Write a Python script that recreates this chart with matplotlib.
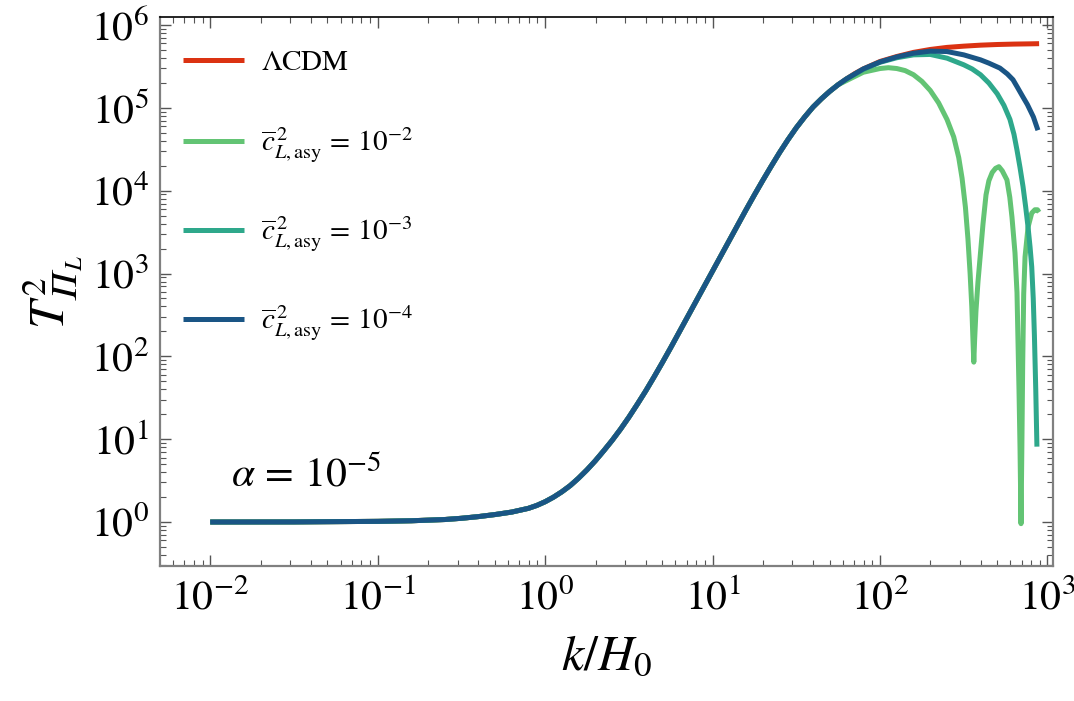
import numpy as np
import matplotlib
matplotlib.use("Agg")
import matplotlib.pyplot as plt
from matplotlib.ticker import LogLocator, NullFormatter

plt.rcParams['mathtext.fontset'] = 'stix'
plt.rcParams['font.family'] = ['STIXGeneral', 'DejaVu Serif']

# log10(k/H0) and log10(T^2)
# shared low-k part (all four curves lie on top of each other here)
logk_common = [-2.0, -1.5, -1.0, -0.8, -0.6, -0.5, -0.4, -0.3, -0.2, -0.1, -0.05, 0.0, 0.05,
               0.1, 0.15, 0.2, 0.25, 0.3, 0.35, 0.4, 0.45, 0.5, 0.55, 0.6, 0.65, 0.7, 0.75,
               0.8, 0.85, 0.9, 0.95, 1.0, 1.05, 1.1, 1.15, 1.2, 1.25, 1.3, 1.35, 1.4, 1.45,
               1.5, 1.55, 1.6, 1.65, 1.7, 1.75]
logT_common = [0.0, 0.001, 0.008, 0.015, 0.03, 0.045, 0.065, 0.09, 0.12, 0.165, 0.20, 0.245, 0.30,
               0.365, 0.44, 0.53, 0.63, 0.74, 0.86, 0.985, 1.12, 1.265, 1.42, 1.58, 1.75, 1.925, 2.105,
               2.29, 2.475, 2.66, 2.845, 3.03, 3.215, 3.40, 3.585, 3.77, 3.95, 4.125, 4.295, 4.46, 4.615,
               4.76, 4.89, 5.01, 5.11, 5.20, 5.28]

# high-k tails
logk_lcdm = [1.8, 1.85, 1.9, 2.0, 2.1, 2.2, 2.3, 2.4, 2.5, 2.6, 2.7, 2.8, 2.9, 2.95]
logT_lcdm = [5.35, 5.415, 5.47, 5.56, 5.62, 5.67, 5.705, 5.73, 5.745, 5.757, 5.765, 5.77, 5.773, 5.775]

logk_c2 = [1.8, 1.9, 2.0, 2.05, 2.1, 2.15, 2.2, 2.25, 2.3, 2.35, 2.4, 2.44, 2.47, 2.49, 2.51,
           2.525, 2.538, 2.548, 2.555, 2.56, 2.565, 2.573, 2.585, 2.60, 2.615, 2.633, 2.65,
           2.67, 2.69, 2.71, 2.73, 2.758, 2.775, 2.788, 2.806, 2.818, 2.83, 2.836, 2.842,
           2.847, 2.852, 2.858, 2.866, 2.884, 2.906, 2.925, 2.94, 2.95]
logT_c2 = [5.33, 5.43, 5.475, 5.485, 5.475, 5.45, 5.40, 5.32, 5.21, 5.06, 4.86, 4.65, 4.40, 4.15, 3.80,
           3.42, 3.0, 2.6, 2.2, 1.93, 2.2, 2.55, 2.9, 3.25, 3.6, 3.95, 4.12,
           4.22, 4.27, 4.29, 4.24, 4.13, 3.92, 3.68, 3.25, 2.77, 1.59, 0.9, -0.02,
           0.9, 1.9, 2.75, 3.2, 3.56, 3.73, 3.77, 3.77, 3.74]

logk_c3 = [1.8, 1.9, 2.0, 2.1, 2.2, 2.3, 2.4, 2.5, 2.55, 2.6, 2.65, 2.7, 2.74, 2.776, 2.8, 2.818,
           2.836, 2.854, 2.87, 2.884, 2.896, 2.906, 2.915, 2.922, 2.93, 2.937]
logT_c3 = [5.35, 5.465, 5.55, 5.605, 5.64, 5.645, 5.60, 5.52, 5.47, 5.40, 5.30, 5.17, 5.03, 4.86, 4.68, 4.49,
           4.28, 4.05, 3.80, 3.56, 3.32, 3.08, 2.70, 2.25, 1.6, 0.91]

logk_c4 = [1.8, 1.9, 2.0, 2.1, 2.2, 2.3, 2.4, 2.5, 2.6, 2.65, 2.716, 2.76, 2.794, 2.82, 2.854,
           2.88, 2.916, 2.943]
logT_c4 = [5.35, 5.47, 5.555, 5.615, 5.66, 5.685, 5.68, 5.64, 5.58, 5.54, 5.48, 5.41, 5.34, 5.25, 5.13,
           5.04, 4.89, 4.73]

labels = [r'$\Lambda\mathrm{CDM}$',
          r'$\overline{c}^{\,2}_{L,\mathrm{asy}}\,=\,10^{-2}$',
          r'$\overline{c}^{\,2}_{L,\mathrm{asy}}\,=\,10^{-3}$',
          r'$\overline{c}^{\,2}_{L,\mathrm{asy}}\,=\,10^{-4}$']
colors = ['#DB3212', '#63C474', '#2EA88B', '#1A5585']
tails = [(logk_lcdm, logT_lcdm), (logk_c2, logT_c2), (logk_c3, logT_c3), (logk_c4, logT_c4)]

fig = plt.figure(figsize=(10.74, 7.01), dpi=100)
ax = fig.add_axes([160/1074, 1-566/701, (1053-160)/1074, (566-17)/701])

for (lk, lt), c, lab in zip(tails, colors, labels):
    k = 10**np.array(logk_common + lk)
    T = 10**np.array(logT_common + lt)
    ax.plot(k, T, color=c, lw=3.6, label=lab, solid_capstyle='butt', solid_joinstyle='round')

ax.set_xscale('log')
ax.set_yscale('log')
ax.set_xlim(10**-2.30, 10**3.033)
ax.set_ylim(10**-0.531, 10**6.097)
for axis in [ax.xaxis, ax.yaxis]:
    axis.set_major_locator(LogLocator(base=10, numticks=30))
    axis.set_minor_locator(LogLocator(base=10, subs=np.arange(2, 10), numticks=30))
    axis.set_minor_formatter(NullFormatter())

ax.tick_params(which='both', direction='in', top=True, right=True, color='#555555')
ax.tick_params(which='major', length=8, width=1.0, labelsize=30, pad=8)
ax.tick_params(which='minor', length=4, width=0.8)
ax.tick_params(axis='x', which='major', pad=10)
for s in ['left', 'right', 'bottom']:
    ax.spines[s].set_color('#808080')
    ax.spines[s].set_linewidth(1.6)
ax.spines['top'].set_color('black')
ax.spines['top'].set_linewidth(1.2)

ax.set_xlabel(r'$k/H_{\mathit{0}}$', fontsize=36, labelpad=12)
ax.set_ylabel(r'$T^2_{𝛱_L}$', fontsize=36, labelpad=4)

ax.text(0.08, 0.145, r'$\alpha\,=\,10^{-5}$', transform=ax.transAxes, fontsize=30)

ax.legend(loc='upper left', bbox_to_anchor=(0.026, 0.94), frameon=False, fontsize=21,
          handlelength=2.1, handletextpad=0.55, labelspacing=1.7, borderaxespad=0, borderpad=0)

fig.savefig('out.png', dpi=100)
